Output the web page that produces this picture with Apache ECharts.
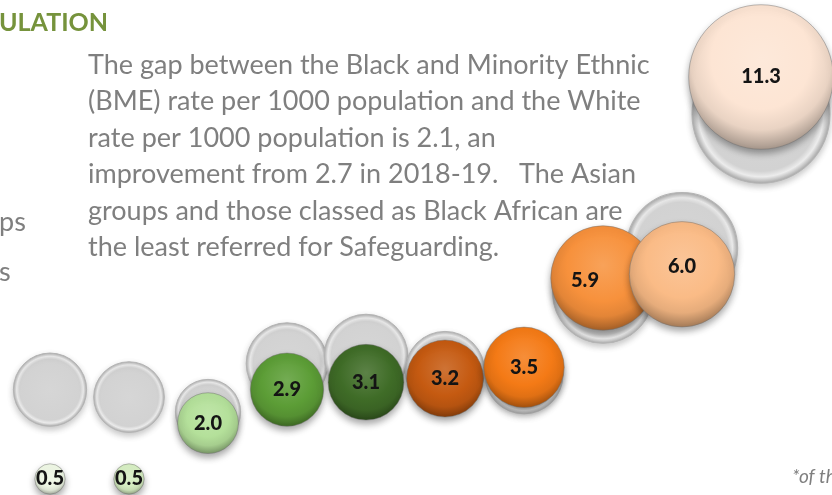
<!DOCTYPE html>
<html>
<head>
<meta charset="utf-8">
<script src="https://cdn.jsdelivr.net/npm/echarts@6/dist/echarts.min.js"></script>
<style>
  html, body { margin: 0; padding: 0; background: #ffffff; }
  #chart { width: 832px; height: 495px; }
</style>
</head>
<body>
<div id="chart"></div>
<script>
// Safeguarding referral rate per 1000 population, by ethnic group
const groupIndex = [1, 2, 3, 4, 5, 6, 7, 8, 9, 10];
const ratesCurrent = [0.5, 0.5, 2.0, 2.9, 3.1, 3.2, 3.5, 5.9, 6.0, 11.3];
const ratesPrevious = [2.9, 2.7, 2.3, 3.6, 3.8, 3.4, 3.3, 5.5, 6.7, 10.3];
const bubbleColours = ['#eef7e4', '#d6eec2', '#b4e09a', '#5c9d36', '#3f6c27',
                       '#c55a11', '#f47a16', '#f7913c', '#fabb86', '#fde5d4'];

const titleText = 'ULATION';
const bodyLines = [
  'The gap between the Black and Minority Ethnic',
  '(BME) rate per 1000 population and the White',
  'rate per 1000 population is 2.1, an',
  'improvement from 2.7 in 2018-19.   The Asian',
  'groups and those classed as Black African are',
  'the least referred for Safeguarding.'
];

const sizeOf = v => 43 * Math.sqrt(v);

function shade(hex, amt) {
  const n = parseInt(hex.slice(1), 16);
  const r = (n >> 16) & 255, g = (n >> 8) & 255, b = n & 255;
  const f = c => Math.max(0, Math.min(255, Math.round(amt < 0 ? c * (1 + amt) : c + (255 - c) * amt)));
  return 'rgb(' + f(r) + ',' + f(g) + ',' + f(b) + ')';
}

// glossy button look: bright top, flat middle, darker rim
function bubbleFill(hex) {
  return {
    type: 'radial', x: 0.5, y: 0.38, r: 0.62,
    colorStops: [
      { offset: 0, color: shade(hex, 0.15) },
      { offset: 0.55, color: hex },
      { offset: 0.78, color: shade(hex, -0.08) },
      { offset: 1, color: shade(hex, -0.35) }
    ]
  };
}

const greyFill = {
  type: 'radial', x: 0.5, y: 0.5, r: 0.5,
  colorStops: [
    { offset: 0, color: '#d6d6d6' },
    { offset: 0.82, color: '#d2d2d2' },
    { offset: 0.9, color: '#ececec' },
    { offset: 1, color: '#a6a6a6' }
  ]
};

const previousData = groupIndex.map((x, i) => [x, ratesPrevious[i]]);
const currentData = groupIndex.map((x, i) => ({
  value: [x, ratesCurrent[i]],
  itemStyle: { color: bubbleFill(bubbleColours[i]) },
  label: i === 7 ? { offset: [-18, 3] } : (i === 8 ? { offset: [0, -8] } : {})
}));

const chart = echarts.init(document.getElementById('chart'), null, { renderer: 'canvas' });

const bodyFont = '27px Lato';
const graphics = [
  {
    type: 'text', x: -1, y: 23,
    style: { text: titleText, font: 'bold 25px Lato', fill: '#76933c', verticalAlign: 'middle' }
  },
  {
    type: 'text', x: 88, y: 47,
    style: { text: bodyLines.join('\n'), font: bodyFont, lineHeight: 36.5, fill: '#7f7f7f', verticalAlign: 'top' }
  },
  {
    type: 'text', x: -1, y: 222,
    style: { text: 'ps', font: bodyFont, fill: '#7f7f7f', verticalAlign: 'middle' }
  },
  {
    type: 'text', x: -1, y: 272,
    style: { text: 's', font: bodyFont, fill: '#7f7f7f', verticalAlign: 'middle' }
  },
  {
    type: 'text', x: 792, y: 477,
    style: { text: '*of the', font: 'italic 19px Lato', fill: '#7f7f7f', verticalAlign: 'middle' }
  }
];

chart.setOption({
  animation: false,
  backgroundColor: '#ffffff',
  grid: { left: 50, right: 71, top: 77, bottom: 16 },
  xAxis: { type: 'value', min: 1, max: 10, show: false },
  yAxis: { type: 'value', min: 0.5, max: 11.3, show: false },
  graphic: graphics,
  series: [
    {
      name: '2018-19',
      type: 'scatter',
      clip: false,
      z: 2,
      data: previousData,
      symbolSize: v => sizeOf(v[1]),
      itemStyle: {
        opacity: 1,
        color: greyFill,
        borderColor: '#b4b4b4',
        borderWidth: 1,
        shadowColor: 'rgba(0,0,0,0.22)',
        shadowBlur: 6,
        shadowOffsetY: 3
      }
    },
    {
      name: '2019-20',
      type: 'scatter',
      clip: false,
      z: 3,
      data: currentData,
      symbolSize: v => sizeOf(v[1]),
      itemStyle: {
        opacity: 1,
        borderColor: 'rgba(110,110,110,0.45)',
        borderWidth: 1,
        shadowColor: 'rgba(0,0,0,0.35)',
        shadowBlur: 7,
        shadowOffsetY: 4
      },
      label: {
        show: true,
        position: 'inside',
        formatter: p => p.value[1].toFixed(1),
        fontFamily: 'Lato',
        fontWeight: 900,
        fontSize: 20,
        color: '#141414'
      }
    }
  ]
});
</script>
</body>
</html>
